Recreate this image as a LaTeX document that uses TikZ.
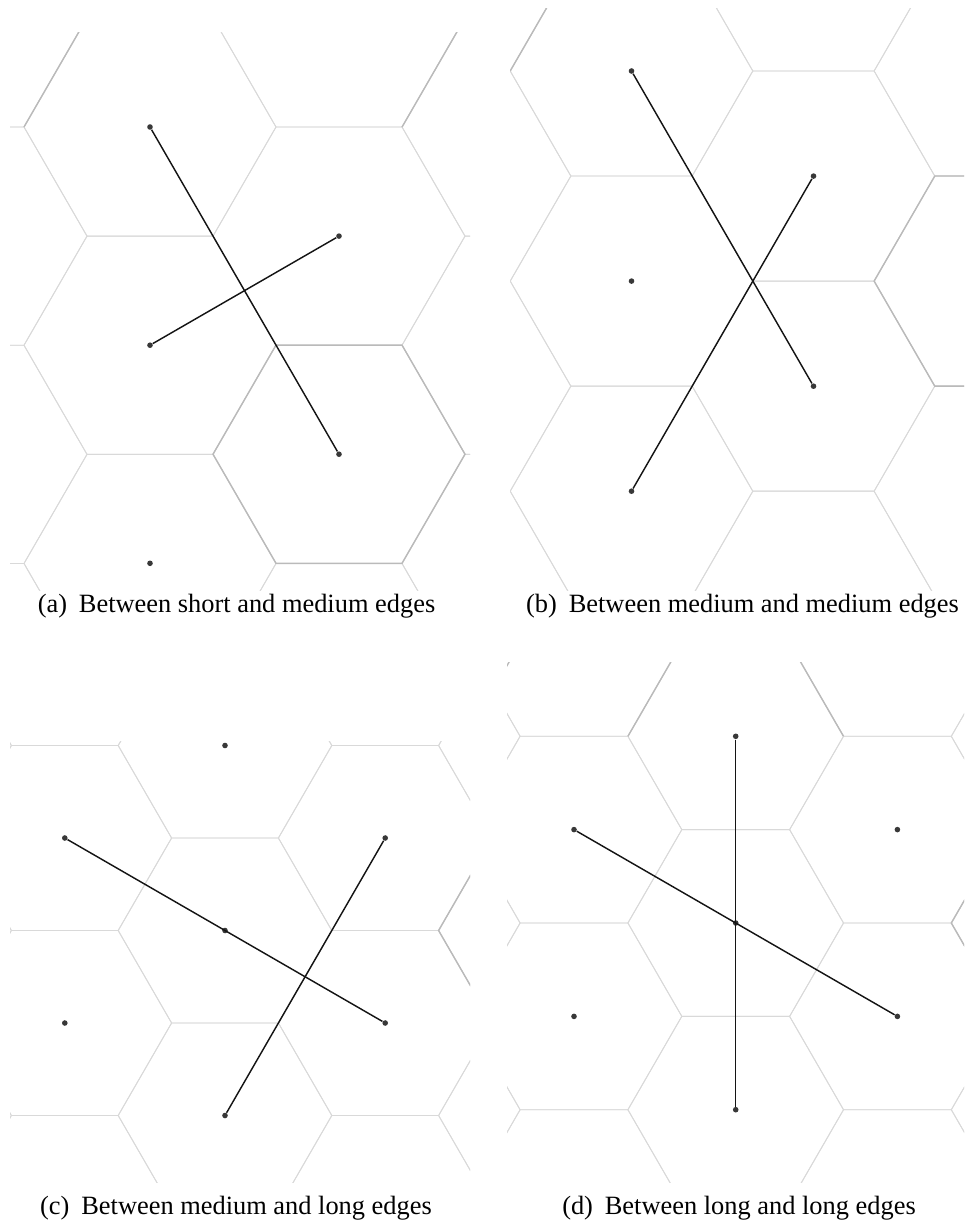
\documentclass[tikz,border=0pt]{standalone}
\usepackage{fontspec}
\setmainfont{Liberation Serif}
\begin{document}
\begin{tikzpicture}[x=0.5pt,y=-0.5pt,
  hexline/.style={draw=black!15,line width=0.45pt,line join=miter},
  hexdark/.style={draw=black!27,line width=0.7pt},
  dot/.style={circle,fill=black!78,inner sep=0pt,minimum size=2.8pt},
  link/.style={draw=black!92,line width=0.72pt},
  captext/.style={font=\fontsize{13.2}{15}\selectfont,inner sep=0pt}]
\useasboundingbox (0,0) rectangle (965,1229);
\newcommand\hexgrid[7]{%
  \begin{scope}
  \clip (#4,#5) rectangle (#6,#7);
  \foreach \i in {-3,...,3}{\foreach \j in {-4,...,4}{
    \pgfmathsetmacro\hx{#1+1.5*#3*\i}
    \pgfmathsetmacro\hy{#2+1.7320508*#3*(\j+0.5*\i)}
    \draw[hexline,shift={(\hx,\hy)}] (0:#3) -- (60:#3) -- (120:#3) -- (180:#3) -- (240:#3) -- (300:#3) -- cycle;
  }}
  \end{scope}}
% ---------------- panel (a)
\hexgrid{150}{127}{126}{10}{32.5}{470}{590}
\begin{scope}
  \clip (10,32.5) rectangle (470,590);
  \draw[hexdark,shift={(339,454.2)}] (0:126) -- (60:126) -- (120:126) -- (180:126) -- (240:126) -- (300:126) -- cycle;
  \draw[hexdark,shift={(150,127)}] (180:126) -- (240:126);
  \draw[hexdark,shift={(339,18)}] (0:126) -- (60:126);
\end{scope}
\node[dot] (a1) at (150,127) {};
\node[dot] (a2) at (339,236.1) {};
\node[dot] (a3) at (150,345.2) {};
\node[dot] (a4) at (339,454.2) {};
\node[dot] (a5) at (150,563.3) {};
\draw[link] (a1) -- (a4);
\draw[link] (a3) -- (a2);
\node[captext] (capa) at (236.5,606) {(a)\hspace{0.45em}Between short and medium edges};
% ---------------- panel (b)
\hexgrid{631.5}{71}{121.3}{510}{8.5}{964}{590}
\begin{scope}
  \clip (510,8.5) rectangle (964,590);
  \draw[hexdark,shift={(631.5,71)}] (180:121.3) -- (240:121.3);
  \draw[hexdark,shift={(995.4,281.1)}] (-60:121.3) -- (240:121.3) -- (180:121.3) -- (120:121.3) -- (60:121.3);
\end{scope}
\node[dot] (b1) at (631.5,71) {};
\node[dot] (b2) at (813.5,176.1) {};
\node[dot] (b3) at (631.5,281.1) {};
\node[dot] (b4) at (813.5,386.2) {};
\node[dot] (b5) at (631.5,491.2) {};
\draw[link] (b1) -- (b4);
\draw[link] (b5) -- (b2);
\node[captext] (capb) at (742.5,606) {(b)\hspace{0.45em}Between medium and medium edges};
% ---------------- panel (c)
\hexgrid{225}{930.5}{106.8}{10}{741}{470}{1182}
\begin{scope}
  \clip (10,741) rectangle (470,1182);
  \draw[hexdark,shift={(545.4,930.5)}] (120:106.8) -- (180:106.8) -- (240:106.8);
\end{scope}
\node[dot] (c1) at (225,745.5) {};
\node[dot] (c2) at (64.8,838) {};
\node[dot] (c3) at (385.2,838) {};
\node[dot] (c4) at (225,930.5) {};
\node[dot] (c5) at (64.8,1023) {};
\node[dot] (c6) at (385.2,1023) {};
\node[dot] (c7) at (225,1115.5) {};
\draw[link] (c2) -- (c6);
\draw[link] (c7) -- (c3);
\node[captext] (capc) at (236,1208) {(c)\hspace{0.45em}Between medium and long edges};
% ---------------- panel (d)
\hexgrid{735.7}{923}{107.8}{507}{662.7}{964}{1182}
\begin{scope}
  \clip (507,662.7) rectangle (964,1182);
  \draw[hexdark,shift={(735.7,736.3)}] (180:107.8) -- (240:107.8);
  \draw[hexdark,shift={(735.7,736.3)}] (0:107.8) -- (300:107.8);
  \draw[hexdark,shift={(574,736.3)}] (180:107.8) -- (240:107.8);
  \draw[hexdark,shift={(1059.1,923)}] (120:107.8) -- (180:107.8) -- (240:107.8);
\end{scope}
\node[dot] (d1) at (735.7,736.3) {};
\node[dot] (d2) at (574,829.6) {};
\node[dot] (d3) at (897.4,829.6) {};
\node[dot] (d4) at (735.7,923) {};
\node[dot] (d5) at (574,1016.4) {};
\node[dot] (d6) at (897.4,1016.4) {};
\node[dot] (d7) at (735.7,1109.7) {};
\draw[link] (d1) -- (d7);
\draw[link] (d2) -- (d6);
\node[captext] (capd) at (739,1208) {(d)\hspace{0.45em}Between long and long edges};
\end{tikzpicture}
\end{document}
